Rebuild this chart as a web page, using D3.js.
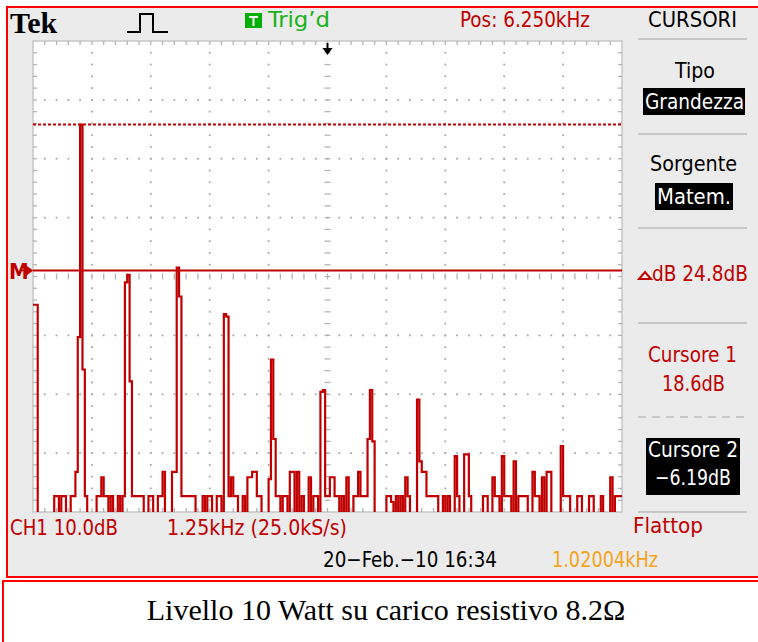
<!DOCTYPE html>
<html>
<head>
<meta charset="utf-8">
<script src="https://cdn.jsdelivr.net/npm/d3@7"></script>
<style>
  body { margin: 0; background: #fff; }
  svg { display: block; }
  .lcd { font-family: "DejaVu Sans Condensed", "DejaVu Sans", sans-serif; font-size: 22px; }
</style>
</head>
<body>
<div id="chart"></div>
<script>
// FFT display: 250 points, 0.05 kHz apart (1.25 kHz/div, 10 div), values in dB
const binKHz = 0.05
const spectrumDb = [
  -12, -12, -50, -50, -50, -50, -50, -50, -50, -44.5,
  -44.5, -50, -44.5, -44.5, -50, -50, -44.5, -44.5, -40.4, -17.5,
  18.6, -23, -44.5, -50, -50, -50, -50, -44.5, -44.5, -41.3,
  -44.5, -44.5, -50, -44.5, -50, -50, -44.5, -50, -44.5, -8.2,
  -6.9, -25, -44.5, -44.5, -44.5, -44.5, -44.5, -50, -50, -44.5,
  -44.5, -50, -50, -44.5, -44.5, -40.4, -50, -50, -50, -40.4,
  -40.4, -5.7, -10.6, -44.5, -44.5, -44.5, -44.5, -44.5, -44.5, -50,
  -50, -50, -44.5, -50, -44.5, -44.5, -50, -50, -44.5, -44.5,
  -50, -13.6, -14, -44.5, -41.3, -44.5, -44.5, -50, -50, -44.5,
  -50, -41.3, -41.3, -40.4, -40.4, -44.5, -44.5, -50, -50, -50,
  -41.6, -21.3, -34.8, -44.5, -44.5, -50, -44.5, -44.5, -50, -40.4,
  -40.4, -50, -40.4, -50, -44.5, -50, -50, -41.3, -50, -44.5,
  -44.5, -50, -26.8, -26.5, -44.5, -44.5, -41.3, -41.3, -44.5, -44.5,
  -50, -44.5, -50, -41.3, -50, -50, -44.5, -44.5, -40.4, -44.5,
  -44.5, -44.5, -34.8, -26.5, -35.2, -50, -50, -50, -50, -50,
  -44.5, -44.5, -45.5, -50, -44.5, -50, -44.5, -50, -41.3, -44.5,
  -50, -50, -50, -28.1, -38.6, -40.4, -40.4, -44.5, -44.5, -44.5,
  -44.5, -44.5, -50, -50, -44.5, -50, -44.5, -50, -50, -37.7,
  -44.5, -50, -50, -37.4, -37.4, -44.5, -50, -50, -50, -50,
  -50, -44.5, -44.5, -50, -50, -41.3, -44.5, -44.5, -50, -37.7,
  -44.5, -44.5, -44.5, -50, -38.6, -50, -44.5, -44.5, -44.5, -44.5,
  -50, -50, -40.4, -44.5, -44.5, -50, -41.3, -50, -40.4, -40.4,
  -50, -50, -50, -50, -36, -44.5, -44.5, -44.5, -50, -50,
  -50, -44.5, -44.5, -50, -50, -50, -44.5, -44.5, -50, -50,
  -50, -44.5, -50, -50, -50, -41.3, -50, -44.5, -44.5, -44.5
]
const cursorDb = [18.6, -6.19]          // cursore 1 (dotted), cursore 2 (solid)
const freqDomain = [0, 12.5]            // kHz, centre 6.250kHz
const dbDomain = [-47.2, 32.8]          // 8 div x 10 dB

const topTexts = ['Trig\u2019d', 'Pos: 6.250kHz', 'CURSORI']
const panelTexts = ['Tipo', 'Grandezza', 'Sorgente', 'Matem.', 'dB 24.8dB', 'Cursore 1', '18.6dB', 'Cursore 2', '\u22126.19dB', 'Flattop']
const bottomTexts = ['CH1 10.0dB', '1.25kHz (25.0kS/s)', '20\u2212Feb.\u221210 16:34', '1.02004kHz']
const caption = 'Livello 10 Watt su carico resistivo 8.2\u03a9'

const plot = { left: 33, right: 622, top: 41, bottom: 512 }
const red = '#c00000'

const svg = d3.select('#chart').append('svg').attr('width', 758).attr('height', 642)

// screen + caption frames
svg.append('rect').attr('x', 7).attr('y', 7).attr('width', 770).attr('height', 570)
  .attr('fill', '#ebebeb').attr('stroke', '#ff0000').attr('stroke-width', 2)
svg.append('rect').attr('x', 3).attr('y', 581).attr('width', 780).attr('height', 90)
  .attr('fill', '#fff').attr('stroke', '#ff0000').attr('stroke-width', 2)
svg.append('text').text(caption)
  .attr('x', 386).attr('y', 620).attr('text-anchor', 'middle')
  .attr('font-family', '"Liberation Serif", "Times New Roman", serif').attr('font-size', 30)
  .attr('fill', '#000')

const x = d3.scaleLinear().domain(freqDomain).range([plot.left, plot.right])
const y = d3.scaleLinear().domain(dbDomain).range([plot.bottom, plot.top])

// graticule
svg.append('rect')
  .attr('x', plot.left).attr('y', plot.top)
  .attr('width', plot.right - plot.left).attr('height', plot.bottom - plot.top)
  .attr('fill', '#fff').attr('stroke', '#c6c6c6').attr('stroke-width', 1.5)

const xMajor = d3.range(0, 12.5 + 1e-6, 1.25)
const xMinor = d3.range(0, 12.5 + 1e-6, 0.25)
const yMajor = d3.range(dbDomain[0], dbDomain[1] + 1e-6, 10)
const yMinor = d3.range(dbDomain[0], dbDomain[1] + 1e-6, 2)
const xMid = x(6.25)
const yMid = y(dbDomain[0] + 40)

const grid = svg.append('g')
const dots = []
xMajor.slice(1, -1).forEach(f => {
  if (f === 6.25) return
  yMinor.slice(1, -1).forEach(d => dots.push([x(f), y(d)]))
})
yMajor.slice(1, -1).forEach(d => {
  if (Math.abs(y(d) - yMid) < 1) return
  xMinor.slice(1, -1).forEach(f => dots.push([x(f), y(d)]))
})
grid.selectAll('.dot').data(dots).enter().append('rect')
  .attr('x', d => d[0] - 0.9).attr('y', d => d[1] - 0.9)
  .attr('width', 1.8).attr('height', 1.8).attr('fill', '#a9a9a9')

const ticks = []
xMinor.slice(1, -1).forEach(f => {
  ticks.push([x(f), plot.top, x(f), plot.top + 4])
  ticks.push([x(f), plot.bottom - 4, x(f), plot.bottom])
  ticks.push([x(f), yMid - 3, x(f), yMid + 3])
})
yMinor.slice(1, -1).forEach(d => {
  ticks.push([plot.left, y(d), plot.left + 4, y(d)])
  ticks.push([plot.right - 4, y(d), plot.right, y(d)])
  ticks.push([xMid - 3, y(d), xMid + 3, y(d)])
})
grid.selectAll('.tick').data(ticks).enter().append('line')
  .attr('x1', d => d[0]).attr('y1', d => d[1]).attr('x2', d => d[2]).attr('y2', d => d[3])
  .attr('stroke', '#b4b4b4').attr('stroke-width', 1.3)

// spectrum trace
svg.append('clipPath').attr('id', 'clip').append('rect')
  .attr('x', plot.left).attr('y', plot.top)
  .attr('width', plot.right - plot.left).attr('height', plot.bottom - plot.top)

const pts = spectrumDb.map((v, i) => [i * binKHz, v])
pts.push([spectrumDb.length * binKHz, spectrumDb[spectrumDb.length - 1]])
const line = d3.line().x(d => x(d[0])).y(d => y(d[1])).curve(d3.curveStepAfter)
svg.append('path').datum(pts)
  .attr('clip-path', 'url(#clip)')
  .attr('d', line)
  .attr('fill', 'none').attr('stroke', red).attr('stroke-width', 2.2)
  .attr('stroke-linejoin', 'miter')

// cursors
svg.append('line')
  .attr('x1', plot.left).attr('x2', plot.right)
  .attr('y1', y(cursorDb[0])).attr('y2', y(cursorDb[0]))
  .attr('stroke', red).attr('stroke-width', 2).attr('stroke-dasharray', '3,2')
svg.append('line')
  .attr('x1', plot.left).attr('x2', plot.right)
  .attr('y1', y(cursorDb[1])).attr('y2', y(cursorDb[1]))
  .attr('stroke', red).attr('stroke-width', 2)

// math reference marker
const ym = y(cursorDb[1])
svg.append('text').text('M').attr('class', 'lcd')
  .attr('x', 9).attr('y', ym + 8).attr('font-size', 15).attr('font-weight', 'bold').attr('fill', red)
svg.append('path')
  .attr('d', `M20,${ym}H26M25,${ym - 5}L32,${ym}L25,${ym + 5}Z`)
  .attr('fill', red).attr('stroke', red).attr('stroke-width', 1.5)

// trigger position arrow
svg.append('path')
  .attr('d', `M${xMid - 1},43H${xMid + 1}V48H${xMid + 5}L${xMid},55L${xMid - 5},48H${xMid - 1}Z`)
  .attr('fill', '#000')

// top bar
svg.append('text').text('Tek')
  .attr('x', 10).attr('y', 33)
  .attr('font-family', '"Liberation Serif", serif').attr('font-weight', 'bold').attr('font-size', 30)
svg.append('path').attr('d', 'M127,32H140V14H153V32H168')
  .attr('fill', 'none').attr('stroke', '#000').attr('stroke-width', 2)
svg.append('rect').attr('x', 245).attr('y', 13).attr('width', 17).attr('height', 15).attr('fill', '#00b000')
svg.append('path').attr('d', 'M249,17H258M253.5,17V26')
  .attr('fill', 'none').attr('stroke', '#fff').attr('stroke-width', 2)

function lcd(t, x0, base, w, color) {
  return svg.append('text').text(t).attr('class', 'lcd')
    .attr('x', x0).attr('y', base)
    .attr('textLength', w).attr('lengthAdjust', 'spacingAndGlyphs')
    .attr('fill', color)
}
lcd(topTexts[0], 268, 27, 62, '#19b219')
lcd(topTexts[1], 460, 27, 130, red)
lcd(topTexts[2], 648, 27, 89, '#000')

// right menu
const sep = [39, 134, 228, 323, 512]
svg.selectAll('.sep').data(sep).enter().append('line')
  .attr('x1', 638).attr('x2', 747).attr('y1', d => d).attr('y2', d => d)
  .attr('stroke', '#c8c8c8').attr('stroke-width', 2)
svg.append('line').attr('x1', 638).attr('x2', 747).attr('y1', 417).attr('y2', 417)
  .attr('stroke', '#c8c8c8').attr('stroke-width', 2).attr('stroke-dasharray', '8,6')

svg.append('rect').attr('x', 643).attr('y', 88).attr('width', 102).attr('height', 27).attr('fill', '#000')
svg.append('rect').attr('x', 655).attr('y', 183).attr('width', 78).attr('height', 27).attr('fill', '#000')
svg.append('rect').attr('x', 646).attr('y', 438).attr('width', 94).attr('height', 57).attr('fill', '#000')

lcd(panelTexts[0], 675, 78, 40, '#000')
lcd(panelTexts[1], 645, 109, 99, '#fff')
lcd(panelTexts[2], 650, 171, 87, '#000')
lcd(panelTexts[3], 657, 204, 74, '#fff')
svg.append('path').attr('d', 'M639,279L645,272L651,279Z')
  .attr('fill', 'none').attr('stroke', red).attr('stroke-width', 2)
lcd(panelTexts[4], 652, 281, 96, red)
lcd(panelTexts[5], 648, 362, 89, red)
lcd(panelTexts[6], 662, 391, 63, red)
lcd(panelTexts[7], 648, 457, 90, '#fff')
lcd(panelTexts[8], 655, 485, 76, '#fff')
lcd(panelTexts[9], 633, 533, 70, red)

// bottom status line
lcd(bottomTexts[0], 10, 535, 108, red)
lcd(bottomTexts[1], 167, 535, 180, red)
lcd(bottomTexts[2], 323, 567, 174, '#000')
lcd(bottomTexts[3], 552, 567, 106, '#f5a31a')
</script>
</body>
</html>
